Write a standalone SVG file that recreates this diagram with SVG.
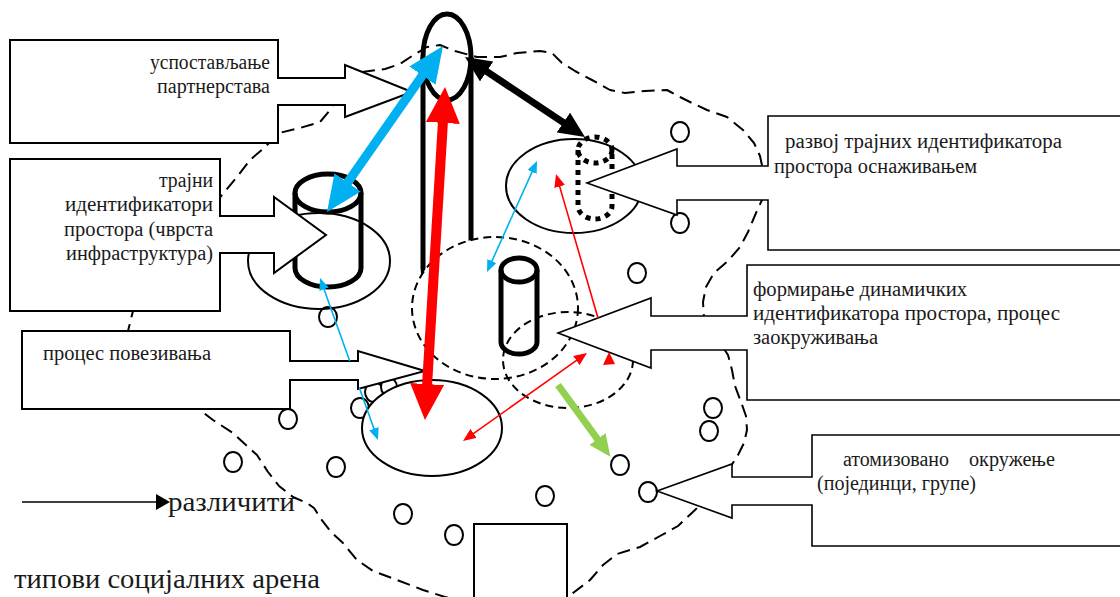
<svg xmlns="http://www.w3.org/2000/svg" width="1120" height="597" viewBox="0 0 1120 597">
<defs>
<style>
.box{fill:#fff;stroke:#000;stroke-width:2}
.boxr{fill:#fff;stroke:#000;stroke-width:1.6}
.t{font-family:"Liberation Serif","DejaVu Serif",serif;font-size:20px;fill:#1a1a1a}
.lg{font-family:"Liberation Serif","DejaVu Serif",serif;font-size:28px;fill:#1a1a1a}
.atom{fill:#fff;stroke:#000;stroke-width:2}
.thin{fill:none;stroke:#000;stroke-width:2}
.thinw{fill:#fff;stroke:#000;stroke-width:2}
.thick{fill:none;stroke:#000;stroke-width:5}
.outline{fill:none;stroke:#000;stroke-width:2;stroke-dasharray:13 7;stroke-linejoin:round}
.dcirc{stroke:#000;stroke-width:2;stroke-dasharray:8 5}
.dot{fill:none;stroke:#000;stroke-width:5;stroke-dasharray:5 5}
</style>
<marker id="hBlueBig" markerUnits="userSpaceOnUse" markerWidth="36" markerHeight="32" refX="2" refY="16" orient="auto-start-reverse"><path d="M0,0 L36,16 L0,32 Z" fill="#00B0F0"/></marker>
<marker id="hRedBig" markerUnits="userSpaceOnUse" markerWidth="36" markerHeight="34" refX="2" refY="17" orient="auto-start-reverse"><path d="M0,0 L36,17 L0,34 Z" fill="#FF0000"/></marker>
<marker id="hBlack" markerUnits="userSpaceOnUse" markerWidth="26" markerHeight="24" refX="2" refY="12" orient="auto-start-reverse"><path d="M0,0 L26,12 L0,24 Z" fill="#000"/></marker>
<marker id="hGreen" markerUnits="userSpaceOnUse" markerWidth="22" markerHeight="20" refX="2" refY="10" orient="auto-start-reverse"><path d="M0,0 L22,10 L0,20 Z" fill="#92D050"/></marker>
<marker id="hBlueSm" markerUnits="userSpaceOnUse" markerWidth="12" markerHeight="10" refX="2" refY="5" orient="auto-start-reverse"><path d="M0,0 L12,5 L0,10 Z" fill="#00B0F0"/></marker>
<marker id="hRedSm" markerUnits="userSpaceOnUse" markerWidth="13" markerHeight="11" refX="2" refY="5.5" orient="auto-start-reverse"><path d="M0,0 L13,5.5 L0,11 Z" fill="#FF0000"/></marker>
<marker id="hLegend" markerUnits="userSpaceOnUse" markerWidth="14" markerHeight="16" refX="2" refY="8" orient="auto"><path d="M0,0 L14,8 L0,16 Z" fill="#000"/></marker>
</defs>
<rect x="0" y="0" width="1120" height="597" fill="#fff"/>

<g id="arena-outline">
<path class="outline" d="M362,72 L385,69 L400,64 L412,56 L427,47 L440,45 L455,51 L477,57 L500,57 L517,53 L540,51 L552,53 L562,63 L575,71 L592,80 L610,90 L625,93 L645,91 L667,90 L680,97 L692,103 L707,110 L727,117 L743,130 L754,143 L760,156 L763,170 L762,200 L756,213 L748,232 L740,247 L728,261 L714,273 L706,287 L703,302 L704,318 L728,355 L732,370 L735,386 L741,402 L746,416 L747,430 L744,443 L738,455 L731,466 L715,490 L695,510 L678,526 L660,536 L640,547 L617,554 L603,565 L590,580 L573,593 L560,600 L474,602 L445,597 L423,590 L397,580 L373,571 L357,560 L343,543 L331,532 L321,519 L314,508 L307,503 L293,497 L279,486 L268,472 L257,455 L247,446 L233,433 L213,420 L200,410 L128,331 L133,311 L222,195 L237,177 L250,160 L265,147 L279,133 L300,128 L320,122 L330,110 L340,92 Z"/>
</g>

<g id="atoms">
<ellipse class="atom" cx="680" cy="132" rx="9" ry="10"/>
<ellipse class="atom" cx="680" cy="223" rx="9" ry="10"/>
<ellipse class="atom" cx="637" cy="273" rx="9" ry="10"/>
<ellipse class="atom" cx="328" cy="317" rx="9" ry="10"/>
<ellipse class="atom" cx="360" cy="408" rx="9" ry="10"/>
<ellipse class="atom" cx="374" cy="392" rx="9" ry="10"/>
<ellipse class="atom" cx="389" cy="387" rx="8" ry="9"/>
<ellipse class="atom" cx="288" cy="419" rx="9" ry="10"/>
<ellipse class="atom" cx="713" cy="408" rx="9" ry="10"/>
<ellipse class="atom" cx="709" cy="431" rx="9" ry="10"/>
<ellipse class="atom" cx="620" cy="465" rx="9" ry="10"/>
<ellipse class="atom" cx="648" cy="492" rx="9" ry="10"/>
<ellipse class="atom" cx="545" cy="496" rx="9" ry="10"/>
<ellipse class="atom" cx="454" cy="535" rx="9" ry="10"/>
<ellipse class="atom" cx="403" cy="514" rx="9" ry="10"/>
<ellipse class="atom" cx="336" cy="467" rx="9" ry="10"/>
<ellipse class="atom" cx="233" cy="462" rx="9" ry="10"/>
</g>

<g id="arena-durable">
<ellipse class="thin" cx="319" cy="261" rx="71" ry="48"/>
</g>
<g id="arena-empowerment">
<ellipse class="thin" cx="574" cy="186" rx="68" ry="47"/>
</g>
<g id="arena-connection">
<ellipse class="thinw" cx="432" cy="428" rx="70" ry="48"/>
</g>

<g id="capsule">
<ellipse class="thick" cx="447" cy="57" rx="24" ry="43"/>
<path class="thick" d="M423,57 V268 A24,24 0 0 0 471,268 V57"/>
</g>

<g id="dynamic-circle-1">
<ellipse class="dcirc" fill="#fff" cx="495" cy="308" rx="83" ry="71"/>
</g>
<g id="dynamic-circle-2">
<ellipse class="dcirc" fill="none" cx="568" cy="360" rx="65" ry="48"/>
</g>

<g id="cylinder-durable">
<ellipse class="thick" cx="328" cy="193" rx="33" ry="19"/>
<path class="thick" d="M295,193 V268 A33,19 0 0 0 361,268 V193"/>
</g>
<g id="cylinder-dynamic">
<ellipse class="thick" cx="519" cy="270" rx="18" ry="12"/>
<path class="thick" d="M501,270 V342 A18,12 0 0 0 537,342 V270"/>
</g>
<g id="cylinder-dotted">
<ellipse class="dot" cx="595" cy="150" rx="17" ry="13"/>
<path class="dot" d="M578,150 V206 A17,13 0 0 0 612,206 V150"/>
</g>

<g id="bottom-block">
<polyline class="thinw" points="474,605 474,524 567,524 567,605"/>
</g>

<g id="box-partnerships">
<polygon class="box" points="10,40 278,40 278,78 345,78 345,65 412,92 345,117 345,105 278,105 278,143 10,143"/>
<text class="t" x="270" y="69" text-anchor="end" textLength="120" lengthAdjust="spacingAndGlyphs">успостављање</text>
<text class="t" x="270" y="93" text-anchor="end" textLength="113" lengthAdjust="spacingAndGlyphs">партнерстава</text>
</g>

<g id="box-durable">
<polygon class="box" points="10,159 220,159 220,216 274,216 274,197 326,235 274,273 274,253 220,253 220,311 10,311"/>
<text class="t" x="213" y="187" text-anchor="end" textLength="54" lengthAdjust="spacingAndGlyphs">трајни</text>
<text class="t" x="213" y="211" text-anchor="end" textLength="148" lengthAdjust="spacingAndGlyphs">идентификатори</text>
<text class="t" x="213" y="236" text-anchor="end" textLength="149" lengthAdjust="spacingAndGlyphs">простора (чврста</text>
<text class="t" x="213" y="260" text-anchor="end" textLength="147" lengthAdjust="spacingAndGlyphs">инфраструктура)</text>
</g>

<g id="box-connecting">
<polygon class="box" points="22,331 290,331 290,361 358,361 358,351 425,371 358,389 358,380 290,380 290,409 22,409"/>
<text class="t" x="43" y="360" textLength="168" lengthAdjust="spacingAndGlyphs">процес повезивања</text>
</g>

<g id="box-empowerment">
<polygon class="boxr" points="1125,116 768,116 768,166 677,166 677,149 587,183 677,215 677,200 768,200 768,250 1125,250"/>
<text class="t" x="785" y="148" textLength="277" lengthAdjust="spacingAndGlyphs">развој трајних идентификатора</text>
<text class="t" x="774" y="173" textLength="203" lengthAdjust="spacingAndGlyphs">простора оснаживањем</text>
</g>

<g id="box-dynamic">
<polygon class="boxr" points="1125,265 747,265 747,316 651,316 651,298 558,333 651,368 651,350 747,350 747,400 1125,400"/>
<text class="t" x="753" y="296" textLength="214" lengthAdjust="spacingAndGlyphs">формирање динамичких</text>
<text class="t" x="753" y="320" textLength="307" lengthAdjust="spacingAndGlyphs">идентификатора простора, процес</text>
<text class="t" x="753" y="344" textLength="125" lengthAdjust="spacingAndGlyphs">заокруживања</text>
</g>

<g id="box-atomized">
<polygon class="boxr" points="1125,435 812,435 812,477 732,477 732,464 657,491 732,518 732,505 812,505 812,546 1125,546"/>
<text class="t" x="843" y="466" textLength="106" lengthAdjust="spacingAndGlyphs">атомизовано</text>
<text class="t" x="1055" y="466" text-anchor="end" textLength="86" lengthAdjust="spacingAndGlyphs">окружење</text>
<text class="t" x="817" y="490" textLength="159" lengthAdjust="spacingAndGlyphs">(појединци, групе)</text>
</g>

<g id="connectors">
<path d="M323.4,287.4 L349.7,361 M359.4,388 L374.6,430.6" fill="none" stroke="#00B0F0" stroke-width="1.6" marker-start="url(#hBlueSm)" marker-end="url(#hBlueSm)"/>
<path d="M491.1,262.9 L532.9,170.1" fill="none" stroke="#00B0F0" stroke-width="1.6" marker-start="url(#hBlueSm)" marker-end="url(#hBlueSm)"/>
<path d="M472,434.6 L578,359.4" fill="none" stroke="#FF0000" stroke-width="1.6" marker-start="url(#hRedSm)" marker-end="url(#hRedSm)"/>
<path d="M598,318 L559.1,184.6" fill="none" stroke="#FF0000" stroke-width="1.6" marker-end="url(#hRedSm)"/>
<polygon points="609,352 603,365 615,364" fill="#FF0000"/>
<path d="M558,385 L598.6,440.6" fill="none" stroke="#92D050" stroke-width="7" marker-end="url(#hGreen)"/>
<path d="M485,70.3 L565,123.7" fill="none" stroke="#000" stroke-width="7" marker-start="url(#hBlack)" marker-end="url(#hBlack)"/>
<path d="M346.5,184.1 L423.5,73.9" fill="none" stroke="#00B0F0" stroke-width="9" marker-start="url(#hBlueBig)" marker-end="url(#hBlueBig)"/>
<path d="M427,386.1 L443,120.9" fill="none" stroke="#FF0000" stroke-width="10" marker-start="url(#hRedBig)" marker-end="url(#hRedBig)"/>
</g>

<g id="legend">
<path d="M22,502 L158,502" fill="none" stroke="#000" stroke-width="1.6" marker-end="url(#hLegend)"/>
<text class="lg" x="168" y="511" textLength="127" lengthAdjust="spacingAndGlyphs">различити</text>
<text class="lg" x="14" y="588" textLength="306" lengthAdjust="spacingAndGlyphs">типови социјалних арена</text>
</g>
</svg>
